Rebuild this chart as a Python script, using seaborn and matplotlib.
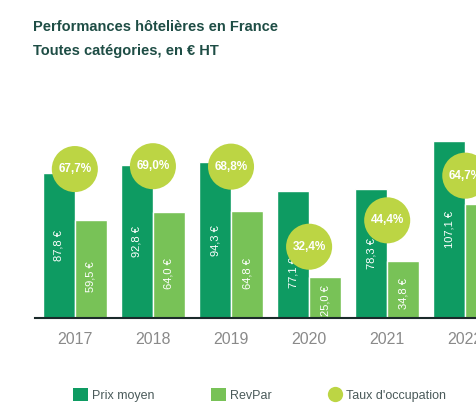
import matplotlib
matplotlib.use("Agg")
import matplotlib.pyplot as plt
import seaborn as sns
import pandas as pd
from matplotlib.patches import Patch
from matplotlib.lines import Line2D
from matplotlib import font_manager

years = ["2017", "2018", "2019", "2020", "2021", "2022"]
prix_moyen = [87.8, 92.8, 94.3, 77.1, 78.3, 107.1]
revpar = [59.5, 64.0, 64.8, 25.0, 34.8, 69.3]
taux_occupation = [67.7, 69.0, 68.8, 32.4, 44.4, 64.7]
series_names = ["Prix moyen", "RevPar", "Taux d'occupation"]

sns.set_theme(style="white")
names = {f.name for f in font_manager.fontManager.ttflist}
fam = "Liberation Sans Narrow" if "Liberation Sans Narrow" in names else "Liberation Sans"
plt.rcParams["font.family"] = [fam, "DejaVu Sans"]

C_PRIX = "#0e9b62"
C_REV = "#78c257"
C_OCC = "#bcd544"
C_TITLE = "#1e4d45"

df = pd.DataFrame({
    "year": years * 2,
    "value": prix_moyen + revpar,
    "serie": [series_names[0]] * len(years) + [series_names[1]] * len(years),
})

fig = plt.figure(figsize=(4.77, 4.07), dpi=100)
ax = fig.add_axes([35 / 477, 89 / 407, 442 / 477, 188 / 407])
sns.barplot(data=df, x="year", y="value", hue="serie",
            palette=[C_PRIX, C_REV], width=0.82, saturation=1,
            ax=ax, legend=False, zorder=2)
ax.set_xlim(-0.51, 5.15)
ymax = 188 / 1.65
ax.set_ylim(0, ymax)

ax2 = ax.twinx()
ax2.set_ylim(0, 188 / 2.2)
occ_df = pd.DataFrame({"year": years, "occ": taux_occupation})
sns.scatterplot(data=occ_df, x="year", y="occ", s=1100, color=C_OCC,
                edgecolor="none", ax=ax2, zorder=5, legend=False)
ax2.set_xlim(-0.51, 5.15)

ratio = (188 / 2.2) / ymax  # occ units per euro unit
off = 0.41 / 2
for i, (p, r, o) in enumerate(zip(prix_moyen, revpar, taux_occupation)):
    circle_euro = o / ratio
    py = min(p * 0.5, circle_euro - 15.5)
    ax.text(i - off, py, f"{p:.1f} €".replace(".", ","), rotation=90,
            ha="center", va="center", color="white", fontsize=8, zorder=4)
    ax.text(i + off, r * 0.42, f"{r:.1f} €".replace(".", ","), rotation=90,
            ha="center", va="center", color="white", fontsize=8, zorder=4)
    ax2.text(i, o, f"{o:.1f}%".replace(".", ","), ha="center", va="center",
             color="white", fontsize=8.5, fontweight="bold", zorder=6)

for a in (ax, ax2):
    for s in ["top", "right", "left"]:
        a.spines[s].set_visible(False)
    a.set_yticks([])
    a.set_ylabel("")
    a.set_xlabel("")
ax2.spines["bottom"].set_visible(False)
ax.spines["bottom"].set_color("#1a2a2a")
ax.spines["bottom"].set_linewidth(1.5)
ax.spines["bottom"].set_zorder(7)
ax.tick_params(axis="x", length=0, pad=10, labelsize=11.5, labelcolor="#8a8a8a")
ax2.tick_params(axis="x", length=0, labelbottom=False)

fig.text(33 / 477, 1 - 27 / 407, "Performances hôtelières en France",
         fontsize=10.5, fontweight="bold", color=C_TITLE, va="center")
fig.text(33 / 477, 1 - 51 / 407, "Toutes catégories, en € HT",
         fontsize=10.5, fontweight="bold", color=C_TITLE, va="center")

handles = [
    Patch(facecolor=C_PRIX, edgecolor="none"),
    Patch(facecolor=C_REV, edgecolor="none"),
    Line2D([0], [0], marker="o", color="none", markerfacecolor=C_OCC,
           markeredgecolor="none", markersize=11),
]
fig.legend(handles, series_names, loc="center", bbox_to_anchor=(0.545, 1 - 395 / 407),
           ncol=3, frameon=False, fontsize=9, handlelength=1.2, handleheight=1.2,
           columnspacing=4.5, handletextpad=0.3, labelcolor="#4a5a5a")

fig.savefig("out.png", dpi=100)
